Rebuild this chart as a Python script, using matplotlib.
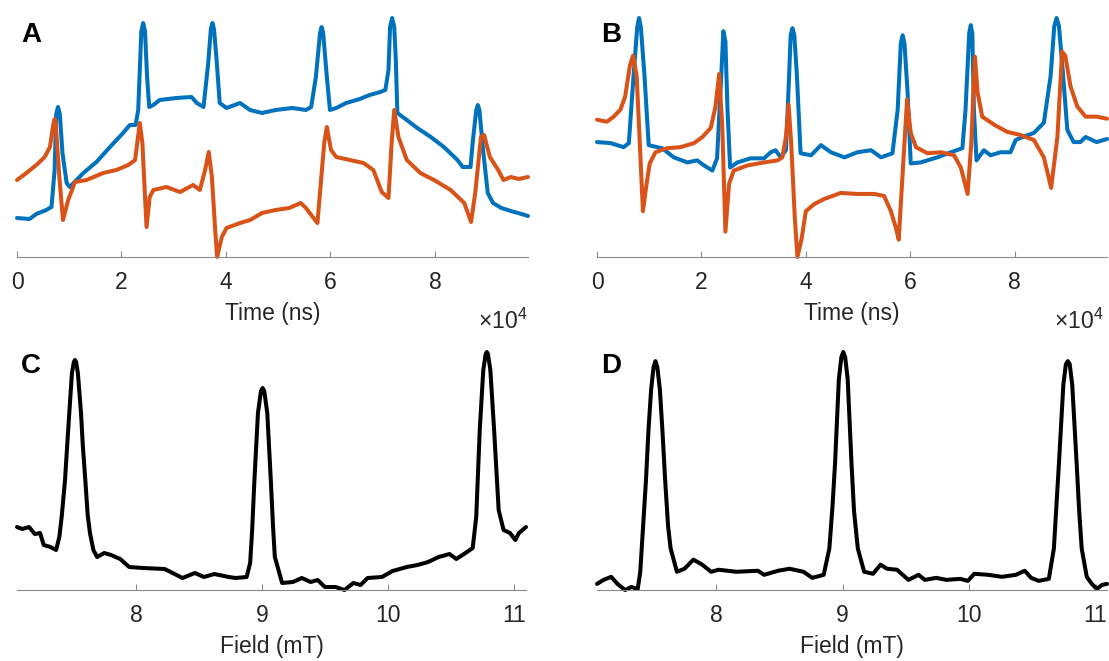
import numpy as np
import matplotlib
matplotlib.use("Agg")
from matplotlib import pyplot as plt

plt.rcParams['font.family'] = ['Liberation Sans', 'DejaVu Sans']
plt.rcParams['mathtext.fontset'] = 'custom'
plt.rcParams['mathtext.rm'] = 'Liberation Sans'

# ---- panel A: time traces (x in units of 1e4 ns, y arbitrary) ----
a_blue_t = [0.00, 0.24, 0.37, 0.56, 0.66, 0.72, 0.75, 0.785, 0.82, 0.87, 0.95, 1.01, 1.14, 1.27, 1.52, 1.78,
            2.03, 2.16, 2.27, 2.32, 2.38, 2.415, 2.45, 2.49, 2.53, 2.61, 2.73, 3.05, 3.34, 3.44, 3.57, 3.66,
            3.71, 3.74, 3.77, 3.82, 3.88, 4.01, 4.27, 4.46, 4.69, 4.95, 5.27, 5.53, 5.63, 5.72, 5.80, 5.83, 5.86,
            5.93, 5.99, 6.11, 6.30, 6.56, 6.75, 6.95, 7.05, 7.11, 7.14, 7.18, 7.22, 7.25, 7.28, 7.46, 7.66,
            7.92, 8.17, 8.43, 8.53, 8.68, 8.72, 8.79, 8.82, 8.85, 8.92, 9.01, 9.11, 9.27, 9.45, 9.59, 9.78]
a_blue_v = [39, 38, 43, 47, 50, 87, 143, 150, 143, 104, 74, 70, 77, 84, 95, 110,
            124, 132, 132, 147, 226, 234, 226, 180, 150, 152, 157, 159, 160, 154, 150, 194,
            228, 234, 228, 197, 154, 149, 154, 147, 144, 147, 149, 147, 150, 180, 224, 230, 224,
            180, 147, 149, 154, 158, 162, 165, 167, 187, 230, 239, 230, 197, 144, 137, 129,
            120, 110, 97, 90, 90, 114, 147, 152, 147, 107, 64, 54, 49, 46, 44, 41]

a_orng_t = [0.00, 0.18, 0.37, 0.53, 0.63, 0.70, 0.72, 0.74, 0.81, 0.88, 0.98, 1.11, 1.33, 1.65, 1.90, 2.13,
            2.26, 2.35, 2.40, 2.45, 2.48, 2.54, 2.61, 2.86, 3.12, 3.37, 3.50, 3.60, 3.67, 3.73, 3.79,
            3.83, 3.92, 4.01, 4.27, 4.46, 4.69, 4.95, 5.21, 5.43, 5.53, 5.66, 5.75, 5.88, 5.93, 6.01,
            6.11, 6.37, 6.63, 6.82, 6.98, 7.11, 7.17, 7.22, 7.30, 7.46, 7.72, 7.98, 8.30, 8.56, 8.69,
            8.77, 8.88, 8.94, 9.05, 9.21, 9.31, 9.45, 9.60, 9.78]
a_orng_v = [77, 84, 92, 100, 110, 134, 138, 134, 80, 37, 57, 75, 77, 84, 87, 92,
            97, 134, 114, 60, 30, 60, 67, 70, 65, 72, 67, 87, 105, 80, 30,
            0, 20, 29, 34, 37, 44, 47, 49, 54, 49, 40, 34, 114, 130, 107,
            100, 97, 94, 87, 65, 59, 114, 147, 120, 97, 84, 77, 67, 54, 35,
            64, 120, 122, 100, 87, 77, 80, 78, 80]

# ---- panel B ----
b_blue_t = [0.00, 0.26, 0.51, 0.61, 0.70, 0.77, 0.805, 0.84, 0.91, 0.99, 1.15, 1.25, 1.47, 1.73, 1.92, 2.05,
            2.21, 2.30, 2.38, 2.42, 2.46, 2.50, 2.55, 2.69, 2.94, 3.20, 3.33, 3.42, 3.52, 3.62, 3.68,
            3.71, 3.745, 3.78, 3.83, 3.90, 4.10, 4.29, 4.48, 4.74, 4.99, 5.25, 5.44, 5.66, 5.76, 5.82, 5.855, 5.89,
            5.95, 6.01, 6.20, 6.52, 6.78, 7.00, 7.06, 7.13, 7.16, 7.19, 7.22, 7.27, 7.41, 7.54, 7.73, 7.92,
            8.02, 8.15, 8.37, 8.56, 8.69, 8.76, 8.805, 8.85, 8.93, 9.01, 9.13, 9.26, 9.36, 9.57, 9.77]
b_blue_v = [115, 114, 110, 114, 180, 228, 237, 228, 180, 112, 110, 109, 100, 95, 97, 92,
            87, 99, 180, 224, 214, 147, 90, 95, 99, 99, 105, 107, 100, 107, 180,
            220, 227, 220, 180, 104, 102, 112, 105, 100, 105, 107, 100, 104, 147, 212, 220, 212,
            164, 94, 95, 100, 105, 109, 147, 222, 230, 222, 147, 97, 107, 102, 105, 105,
            117, 120, 124, 134, 180, 229, 237, 229, 180, 127, 115, 115, 120, 115, 118]

b_orng_t = [0.00, 0.19, 0.32, 0.45, 0.54, 0.63, 0.69, 0.76, 0.82, 0.88, 0.95, 1.01, 1.12, 1.34, 1.60,
            1.86, 2.02, 2.18, 2.27, 2.34, 2.40, 2.46, 2.53, 2.62, 2.88, 3.20, 3.46, 3.55, 3.62, 3.67,
            3.72, 3.79, 3.84, 3.92, 4.00, 4.16, 4.35, 4.67, 4.99, 5.31, 5.50, 5.63, 5.73, 5.78, 5.85,
            5.94, 6.01, 6.11, 6.33, 6.59, 6.84, 6.97, 7.10, 7.17, 7.24, 7.29, 7.38, 7.61, 7.86, 8.11,
            8.37, 8.56, 8.70, 8.82, 8.91, 8.97, 9.07, 9.20, 9.36, 9.57, 9.77]
b_orng_v = [137, 135, 140, 147, 160, 190, 200, 180, 114, 47, 74, 94, 105, 109, 110,
            114, 120, 129, 150, 182, 130, 27, 74, 87, 92, 95, 97, 100, 120, 152,
            114, 40, 2, 20, 47, 54, 59, 65, 64, 64, 62, 47, 30, 19, 80,
            157, 124, 110, 104, 105, 102, 90, 64, 114, 199, 164, 140, 132, 125, 122,
            117, 100, 70, 120, 204, 200, 170, 150, 140, 140, 138]

# ---- panel C: field sweep (mT) ----
c_field = [7.054, 7.096, 7.15, 7.195, 7.237, 7.266, 7.32, 7.364, 7.39, 7.41, 7.435, 7.455, 7.469, 7.49, 7.505,
           7.514, 7.523, 7.537, 7.562, 7.576, 7.596, 7.615, 7.633, 7.66, 7.69, 7.746, 7.80, 7.873, 7.944, 8.056,
           8.226, 8.367, 8.466, 8.537, 8.62, 8.734, 8.79, 8.876, 8.904, 8.92, 8.938, 8.966, 8.99, 9.003,
           9.016, 9.04, 9.068, 9.085, 9.10, 9.158, 9.243, 9.314, 9.384, 9.44, 9.497, 9.582, 9.653, 9.723,
           9.78, 9.836, 9.95, 10.034, 10.147, 10.232, 10.316, 10.40, 10.486, 10.54, 10.613, 10.67, 10.698,
           10.726, 10.754, 10.773, 10.782, 10.791, 10.81, 10.84, 10.876, 10.915, 10.966, 11.008, 11.037,
           11.093]
c_signal = [63, 61, 63, 56, 57, 45, 43, 40, 53, 75, 110, 150, 177, 217, 228,
            230, 228, 217, 177, 145, 110, 75, 57, 40, 33, 37, 35, 31, 23, 22,
            21, 12, 17, 13, 16, 13, 12, 13, 27, 60, 110, 177, 199, 202,
            199, 177, 110, 65, 33, 7, 8, 12, 8, 10, 3, 3, 0, 7,
            5, 12, 13, 19, 23, 25, 28, 33, 36, 31, 37, 42, 73,
            160, 220, 236, 238, 236, 220, 160, 80, 60, 57, 50, 57,
            63]

# ---- panel D ----
d_field = [7.058, 7.11, 7.17, 7.22, 7.28, 7.33, 7.38, 7.40, 7.42, 7.445, 7.465, 7.486, 7.505, 7.52, 7.535,
           7.555, 7.575, 7.597, 7.62, 7.64, 7.69, 7.75, 7.82, 7.89, 7.96, 8.02, 8.16, 8.33, 8.38, 8.49,
           8.58, 8.69, 8.76, 8.85, 8.895, 8.92, 8.94, 8.97, 8.99, 9.005, 9.02, 9.04, 9.07, 9.09, 9.12,
           9.17, 9.24, 9.30, 9.35, 9.43, 9.52, 9.60, 9.65, 9.74, 9.82, 9.93, 9.99, 10.04, 10.15, 10.26,
           10.37, 10.44, 10.49, 10.55, 10.63, 10.67, 10.69, 10.71, 10.745, 10.765, 10.78, 10.795, 10.815,
           10.85, 10.87, 10.89, 10.93, 10.97, 11.01, 11.05, 11.09]
d_signal = [8, 12, 15, 8, 2, 5, 3, 20, 60, 110, 160, 200, 222, 228, 222,
            200, 160, 110, 65, 43, 20, 23, 32, 27, 20, 22, 20, 21, 17, 21,
            23, 20, 14, 17, 43, 85, 127, 210, 232, 237, 232, 210, 127, 80, 43,
            20, 18, 27, 23, 22, 12, 17, 12, 14, 12, 13, 11, 18, 17, 15,
            17, 21, 14, 11, 13, 43, 85, 127, 205, 225, 228, 225, 205,
            127, 80, 43, 15, 8, 3, 7, 8]

blue = '#0072BD'
orange = '#D95319'
txt = '#262626'
W, H = 1109, 661
lw = 2.9


def make_axes(fig, left, right, bottom, top):
    ax = fig.add_axes([left / W, 1 - bottom / H, (right - left) / W, (bottom - top) / H])
    for s in ['top', 'right', 'left']:
        ax.spines[s].set_visible(False)
    ax.spines['bottom'].set_color('#8a8a8a')
    ax.spines['bottom'].set_linewidth(0.8)
    ax.set_yticks([])
    ax.tick_params(axis='x', direction='in', length=4, width=0.8, color='#8a8a8a',
                   labelsize=16.5, labelcolor=txt, pad=10)
    return ax


fig = plt.figure(figsize=(W / 100, H / 100), dpi=100)

axA = make_axes(fig, 17, 528, 257, 18)
axB = make_axes(fig, 597, 1107, 257, 18)
axC = make_axes(fig, 17, 526, 590, 352)
axD = make_axes(fig, 597, 1107, 590, 352)

line_kw = dict(lw=lw, clip_on=False, solid_joinstyle='round', solid_capstyle='round')

for ax, tb, vb, to, vo, xmax in [(axA, a_blue_t, a_blue_v, a_orng_t, a_orng_v, 9.78),
                                 (axB, b_blue_t, b_blue_v, b_orng_t, b_orng_v, 9.77)]:
    ax.plot(tb, vb, color=blue, **line_kw)
    ax.plot(to, vo, color=orange, **line_kw)
    ax.set_xlim(0, xmax)
    ax.set_ylim(min(min(vb), min(vo)), max(max(vb), max(vo)))
    ax.set_xticks([0, 2, 4, 6, 8])
    ax.set_xlabel('Time (ns)', fontsize=16.5, color=txt, labelpad=6)

for ax, f, s, lo, hi in [(axC, c_field, c_signal, 7.054, 11.093),
                         (axD, d_field, d_signal, 7.058, 11.09)]:
    ax.plot(f, s, color='black', **line_kw)
    ax.set_xlim(lo, hi)
    ax.set_ylim(min(s), max(s))
    ax.set_xticks([8, 9, 10, 11])
    ax.set_xlabel('Field (mT)', fontsize=16.5, color=txt, labelpad=6)

# exponent labels
fig.text(528 / W, 1 - 321 / H, r'$\mathregular{\times10^4}$', ha='right', va='center',
         fontsize=16.5, color=txt)
fig.text(1104 / W, 1 - 321 / H, r'$\mathregular{\times10^4}$', ha='right', va='center',
         fontsize=16.5, color=txt)

# panel letters
for lab, x, y in [('A', 21, 42), ('B', 601, 42), ('C', 21, 373), ('D', 601, 373)]:
    fig.text(x / W, 1 - y / H, lab, fontsize=20, fontweight='bold', ha='left', va='baseline')

fig.savefig('out.png', dpi=100)
